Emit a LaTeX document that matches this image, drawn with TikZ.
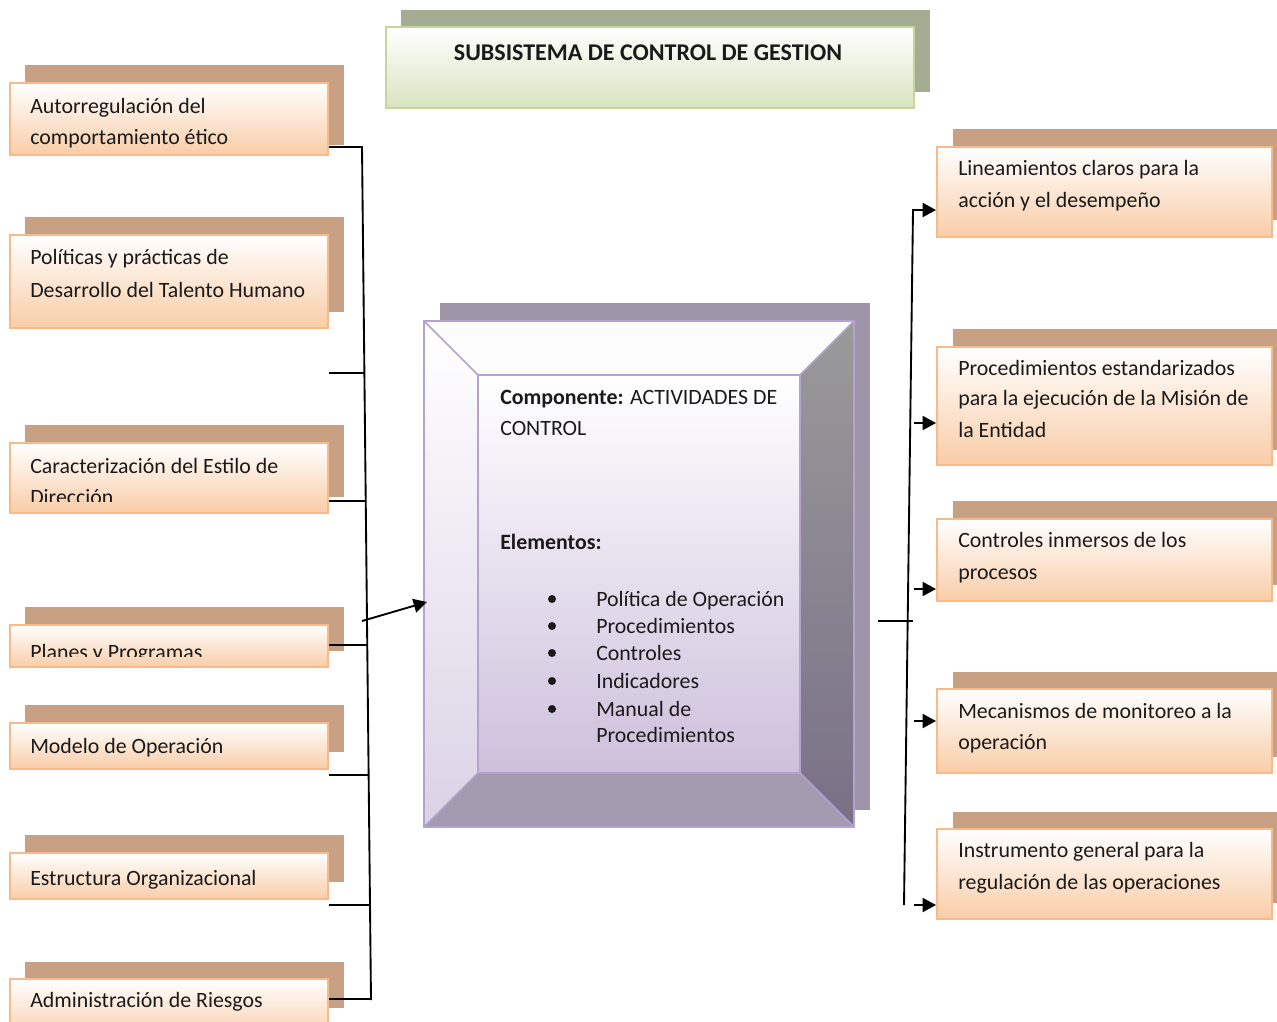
\documentclass[tikz,border=0pt]{standalone}
\usepackage{fontspec}
\setmainfont{Carlito}
\usetikzlibrary{arrows.meta,fit}
\definecolor{peach}{HTML}{F9CDA8}
\definecolor{peachline}{HTML}{F8BA88}
\definecolor{shadebrown}{HTML}{C8A083}
\definecolor{greenline}{HTML}{C3D69B}
\definecolor{greenbot}{HTML}{D8E4C0}
\definecolor{greenshadow}{HTML}{A4AD94}
\definecolor{lav}{HTML}{B3A3CE}
\definecolor{lavshadow}{HTML}{9E95A8}
\definecolor{innerbot}{HTML}{CDC0DC}
\definecolor{leftbot}{HTML}{DBD2E5}
\definecolor{righttop}{HTML}{9A9A9A}
\definecolor{rightbot}{HTML}{7A7087}
\definecolor{bottomfill}{HTML}{A59BB0}
\definecolor{txtcol}{HTML}{1A1A1A}
\tikzset{
  shadowfill/.style={fill=shadebrown},
  frontbox/.style={draw=peachline, line width=1.5pt, top color=white, bottom color=peach, inner sep=0pt},
  txt/.style={font=\fontsize{16.4}{19}\selectfont, text=txtcol, anchor=base west, inner sep=0pt},
  conn/.style={line width=1.4pt, draw=black},
  arr/.style={conn, -{Triangle[length=10pt,width=10.5pt]}},
}
\begin{document}
\begin{tikzpicture}[x=0.75pt,y=-0.75pt]
\useasboundingbox (0,0) rectangle (1277,1021);
\clip (0,0) rectangle (1277,1021);

% ---------- Title ----------
\fill[greenshadow] (401,10) rectangle (930,92);
\node[draw=greenline, line width=1.5pt, top color=white, bottom color=greenbot, inner sep=0pt, fit={(386,27) (914,108)}] (TF) {};
\node[font=\bfseries\fontsize{18}{21}\selectfont, text=txtcol, anchor=base, inner sep=0pt] (TT) at (648,60) {SUBSISTEMA DE CONTROL DE GESTION};

% ---------- Left boxes ----------
% 1
\fill[shadowfill] (25,65) rectangle (344,145);
\node[frontbox, fit={(10,83) (328,155)}] (L1) {};
\begin{scope}
\clip (10,83) rectangle (328,147);
\node[txt] (L1a) at (30,113) {Autorregulación del};
\node[txt] (L1b) at (30,144) {comportamiento ético};
\end{scope}
% 2
\fill[shadowfill] (25,217) rectangle (344,312);
\node[frontbox, fit={(10,235) (328,328)}] (L2) {};
\node[txt] (L2a) at (30,264) {Políticas y prácticas de};
\node[txt] (L2b) at (30,297) {Desarrollo del Talento Humano};
% 3
\fill[shadowfill] (25,425) rectangle (344,497);
\node[frontbox, fit={(10,443) (328,513)}] (L3) {};
\begin{scope}
\clip (10,443) rectangle (328,501);
\node[txt] (L3a) at (30,473) {Caracterización del Estilo de};
\node[txt] (L3b) at (30,504) {Dirección};
\end{scope}
% 4
\fill[shadowfill] (25,607) rectangle (344,651);
\node[frontbox, fit={(10,625) (328,667)}] (L4) {};
\begin{scope}
\clip (10,625) rectangle (328,656);
\node[txt] (L4a) at (30,659) {Planes y Programas};
\end{scope}
% 5
\fill[shadowfill] (25,705) rectangle (344,752);
\node[frontbox, fit={(10,723) (328,769)}] (L5) {};
\node[txt] (L5a) at (30,753) {Modelo de Operación};
% 6
\fill[shadowfill] (25,835) rectangle (344,882);
\node[frontbox, fit={(10,853) (328,899)}] (L6) {};
\node[txt] (L6a) at (30,885) {Estructura Organizacional};
% 7
\fill[shadowfill] (25,962) rectangle (344,1008);
\node[frontbox, fit={(10,979) (328,1040)}] (L7) {};
\node[txt] (L7a) at (30,1007) {Administración de Riesgos};

% ---------- Left connectors ----------
\coordinate (lvtop) at (362,147);
\coordinate (lvbot) at (371,1000);
\draw[conn] (L1.east |- lvtop) -- (lvtop) -- (lvbot);
\draw[conn] (L2.east |- 0,373) -- (364.4,373);
\draw[conn] (L3.east |- 0,501) -- (365.7,501);
\draw[conn] (L4.east |- 0,645) -- (367.3,645);
\draw[conn] (L5.east |- 0,775) -- (368.6,775);
\draw[conn] (L6.east |- 0,905) -- (370.0,905);
\draw[conn] (L7.east |- 0,999) -- (371.0,999);

% ---------- Center box ----------
\fill[lavshadow] (440,303) rectangle (870,810);
% top bevel
\fill[white!97!lav] (424,321) -- (854,321) -- (800,375) -- (478,375) -- cycle;
% left bevel
\fill[top color=white, bottom color=leftbot] (424,321) -- (478,375) -- (478,773) -- (424,827) -- cycle;
% right bevel
\fill[top color=righttop, bottom color=rightbot] (854,321) -- (854,827) -- (800,773) -- (800,375) -- cycle;
% bottom bevel
\fill[bottomfill] (424,827) -- (854,827) -- (800,773) -- (478,773) -- cycle;
% inner face
\fill[top color=white, bottom color=innerbot] (478,375) rectangle (800,773);
\draw[lav, line width=1.1pt] (424,321) -- (478,375) (854,321) -- (800,375) (424,827) -- (478,773) (854,827) -- (800,773);
\draw[lav, line width=1.1pt] (478,375) rectangle (800,773);
\node[draw=lav, line width=1.5pt, inner sep=0pt, fit={(424,321) (854,827)}] (C) {};

\node[txt] (Ca) at (500,404) {\textbf{Componente:} ACTIVIDADES DE};
\node[txt] (Cb) at (500,435) {CONTROL};
\node[txt] (Cc) at (500,549) {\textbf{Elementos:}};
\foreach \yy/\tt [count=\i] in {606/Política de Operación,633/Procedimientos,660/Controles,688/Indicadores,716/Manual de}{
  \fill[txtcol] (552,\yy-7) circle (3pt);
  \node[txt] (Ci\i) at (596,\yy) {\tt};
}
\node[txt] (Ci6) at (596,742) {Procedimientos};

\coordinate (cin) at (427,602);
\draw[arr] (362,621) -- (cin);

% ---------- Right boxes ----------
\fill[shadowfill] (953,129) rectangle (1290,220);
\node[frontbox, fit={(937,147) (1272,237)}] (R1) {};
\node[txt] (R1a) at (958,175) {Lineamientos claros para la};
\node[txt] (R1b) at (958,207) {acción y el desempeño};

\fill[shadowfill] (953,329) rectangle (1290,450);
\node[frontbox, fit={(937,347) (1272,465)}] (R2) {};
\node[txt] (R2a) at (958,375) {Procedimientos estandarizados};
\node[txt] (R2b) at (958,405) {para la ejecución de la Misión de};
\node[txt] (R2c) at (958,437) {la Entidad};

\fill[shadowfill] (953,501) rectangle (1290,585);
\node[frontbox, fit={(937,519) (1272,601)}] (R3) {};
\node[txt] (R3a) at (958,547) {Controles inmersos de los};
\node[txt] (R3b) at (958,579) {procesos};

\fill[shadowfill] (953,672) rectangle (1290,757);
\node[frontbox, fit={(937,689) (1272,773)}] (R4) {};
\node[txt] (R4a) at (958,718) {Mecanismos de monitoreo a la};
\node[txt] (R4b) at (958,749) {operación};

\fill[shadowfill] (953,812) rectangle (1290,903);
\node[frontbox, fit={(937,829) (1272,919)}] (R5) {};
\node[txt] (R5a) at (958,857) {Instrumento general para la};
\node[txt] (R5b) at (958,889) {regulación de las operaciones};

% ---------- Right connectors ----------
\coordinate (rvtop) at (913,210);
\coordinate (rvbot) at (904,905);
\coordinate (cout) at (878,621);
\draw[conn] (cout) -- (913,621);
\draw[arr] (rvbot) -- (rvtop) -- (R1.west |- rvtop);
\coordinate (a2) at (914,423);
\coordinate (a3) at (914,589);
\coordinate (a4) at (914,721);
\coordinate (a5) at (914,905);
\draw[arr] (a2) -- (R2.west |- a2);
\draw[arr] (a3) -- (R3.west |- a3);
\draw[arr] (a4) -- (R4.west |- a4);
\draw[arr] (a5) -- (R5.west |- a5);
\end{tikzpicture}
\end{document}
